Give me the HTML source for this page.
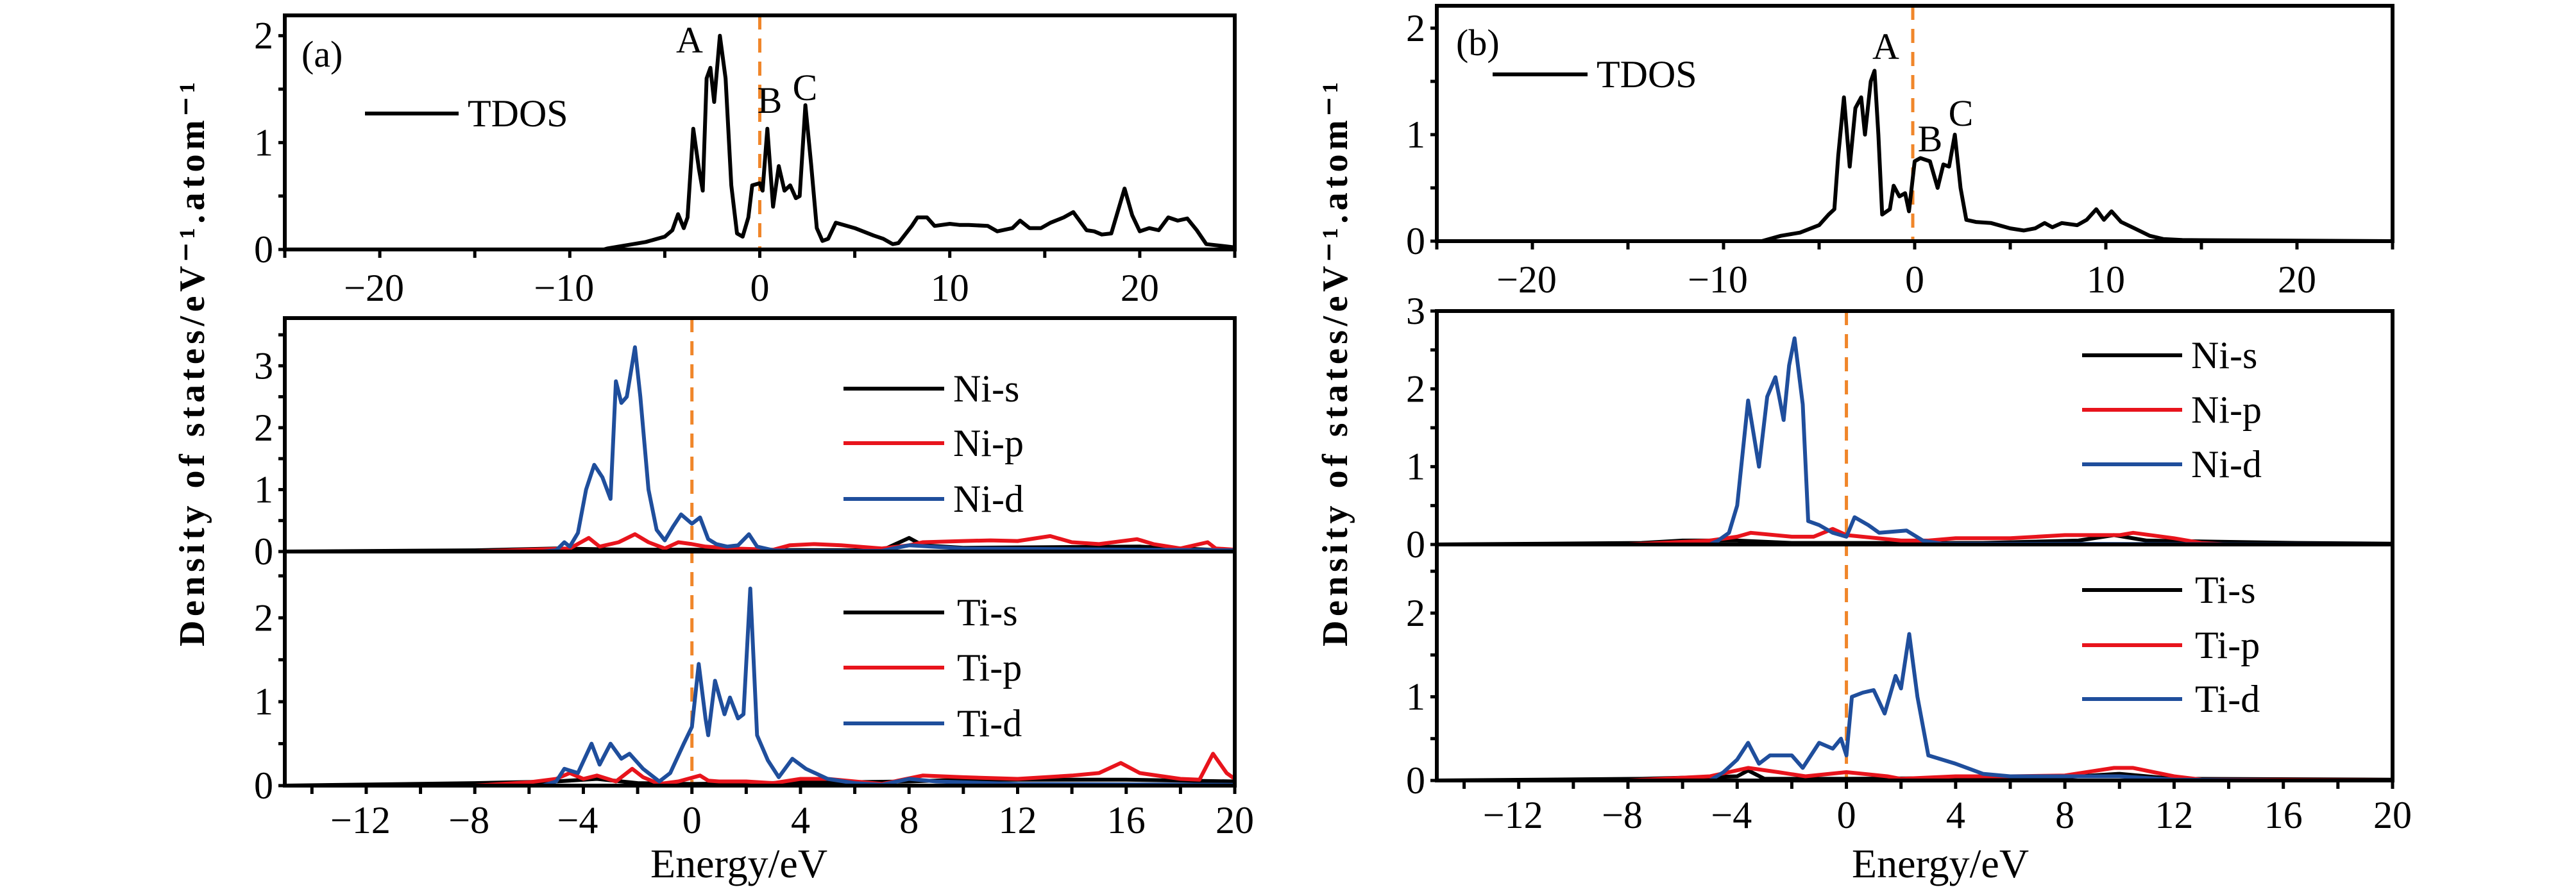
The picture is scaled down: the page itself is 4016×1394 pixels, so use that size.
<!DOCTYPE html>
<html><head><meta charset="utf-8">
<style>
html,body{margin:0;padding:0;background:#fff;}
svg{display:block;}
text{font-family:"Liberation Serif",serif;fill:#000;}
</style></head>
<body>
<svg id="fig" width="4016" height="1394" viewBox="0 0 4016 1394" xmlns="http://www.w3.org/2000/svg"></svg>
<script>
// ---------- data ----------
const tdosA_E=[-25,-8.2,-8,-7,-6,-5,-4.6,-4.3,-4.0,-3.8,-3.5,-3.2,-3.0,-2.8,-2.6,-2.4,-2.1,-1.8,-1.5,-1.2,-0.9,-0.6,-0.4,0,0.15,0.4,0.7,1.0,1.3,1.6,1.9,2.1,2.4,2.7,3.0,3.3,3.6,4.0,5,6,6.5,7,7.3,8,8.3,8.8,9.2,10,10.5,11,12,12.5,13.3,13.7,14.2,14.8,15.3,16,16.5,17.2,17.6,18,18.5,19.2,19.6,20,20.5,21,21.5,22,22.5,23,23.5,25];
const tdosA_V=[0,0,0.01,0.04,0.07,0.12,0.18,0.33,0.2,0.3,1.13,0.75,0.55,1.6,1.7,1.38,2.0,1.6,0.6,0.15,0.12,0.3,0.6,0.62,0.55,1.13,0.4,0.78,0.55,0.6,0.48,0.5,1.35,0.8,0.2,0.08,0.1,0.25,0.2,0.13,0.1,0.05,0.06,0.22,0.3,0.3,0.22,0.24,0.23,0.23,0.22,0.17,0.2,0.27,0.2,0.2,0.25,0.3,0.35,0.18,0.17,0.14,0.15,0.57,0.32,0.17,0.2,0.18,0.3,0.27,0.29,0.18,0.05,0.02];

const niA_E_d=[-15,-5.5,-5,-4.7,-4.5,-4.2,-3.9,-3.6,-3.3,-3.0,-2.8,-2.6,-2.4,-2.1,-1.9,-1.6,-1.3,-1.0,-0.7,-0.4,0,0.3,0.6,0.9,1.3,1.7,2.1,2.4,3,4,7,8,10,20];
const niA_d=[0,0,0.02,0.15,0.08,0.3,1.0,1.4,1.2,0.85,2.75,2.4,2.5,3.3,2.5,1.0,0.35,0.18,0.4,0.6,0.45,0.55,0.2,0.12,0.08,0.1,0.28,0.08,0.02,0.01,0.01,0.1,0.05,0.02];
const niA_E_p=[-15,-8,-6,-4.5,-3.8,-3.4,-2.7,-2.1,-1.6,-1,-0.5,0,0.5,1.5,3,3.6,4.5,5.5,7,8,8.5,10,11,12,13.2,14,15,16.4,17,18,19,19.3,20];
const niA_p=[0,0,0.03,0.05,0.22,0.08,0.15,0.28,0.15,0.05,0.15,0.12,0.08,0.05,0.03,0.1,0.12,0.1,0.05,0.1,0.15,0.17,0.18,0.17,0.25,0.15,0.12,0.2,0.12,0.05,0.15,0.05,0.03];
const niA_E_s=[-15,-8,-5,-2.5,0,7,8,8.5,10,16.5,20];
const niA_s=[0,0.02,0.05,0.03,0.03,0.02,0.22,0.1,0.06,0.08,0.01];

const tiA_E_d=[-15,-5.5,-5,-4.7,-4.2,-3.7,-3.4,-3.0,-2.6,-2.3,-1.8,-1.2,-0.8,-0.3,0,0.25,0.5,0.6,0.85,1.2,1.4,1.7,1.9,2.15,2.4,2.8,3.2,3.7,4.2,5,6,7,8,9,12,20];
const tiA_d=[0,0,0.05,0.2,0.15,0.5,0.25,0.5,0.32,0.38,0.2,0.05,0.15,0.5,0.7,1.45,0.8,0.6,1.25,0.85,1.05,0.8,0.85,2.35,0.6,0.3,0.1,0.32,0.2,0.08,0.03,0.01,0.08,0.05,0.02,0.01];
const tiA_E_p=[-15,-8,-6,-5,-4.5,-4,-3.5,-2.8,-2.2,-1.8,-1.2,-0.5,0.3,0.6,1,2,3,4,5,6,7,8.5,10,12,14,15,15.8,16.5,18,18.7,19.2,19.7,20];
const tiA_p=[0,0,0.04,0.08,0.15,0.08,0.12,0.05,0.2,0.1,0.02,0.05,0.12,0.06,0.05,0.05,0.03,0.08,0.08,0.05,0.02,0.12,0.1,0.08,0.12,0.15,0.27,0.15,0.08,0.07,0.38,0.15,0.08];
const tiA_E_s=[-15,-8,-5,-3.5,-2,0,8,10,16,20];
const tiA_s=[0,0.03,0.05,0.08,0.03,0.02,0.05,0.07,0.07,0.05];

const tdosB_E=[-25,-8,-7,-6,-5,-4.5,-4.2,-4.0,-3.7,-3.4,-3.1,-2.8,-2.6,-2.3,-2.1,-1.9,-1.7,-1.3,-1.1,-0.8,-0.5,-0.3,0,0.3,0.8,1.2,1.5,1.8,2.1,2.4,2.7,3.2,4,5,5.7,6.3,6.8,7.2,7.7,8.5,9,9.5,9.9,10.3,10.8,11.5,12.3,13,14,25];
const tdosB_V=[0,0,0.05,0.08,0.15,0.25,0.3,0.8,1.35,0.7,1.25,1.35,1.0,1.5,1.6,1.0,0.25,0.3,0.52,0.42,0.45,0.28,0.75,0.78,0.75,0.5,0.72,0.7,1.0,0.5,0.2,0.18,0.17,0.12,0.1,0.12,0.17,0.13,0.17,0.15,0.2,0.3,0.2,0.28,0.18,0.12,0.05,0.02,0.01,0];

const niB_E_d=[-15,-5,-4.7,-4.3,-4,-3.6,-3.2,-2.9,-2.6,-2.3,-2.1,-1.9,-1.6,-1.4,-1,-0.5,0,0.3,0.8,1.2,2.2,2.8,3.5,20];
const niB_d=[0,0,0.05,0.15,0.5,1.85,1.0,1.9,2.15,1.6,2.3,2.65,1.8,0.3,0.25,0.15,0.1,0.35,0.25,0.15,0.18,0.05,0.01,0];
const niB_E_p=[-15,-8,-5,-4,-3.5,-2,-1.2,-0.5,0,2,3,4,6,8,10,10.5,12,13,14,20];
const niB_p=[0,0,0.05,0.1,0.15,0.1,0.1,0.2,0.12,0.05,0.05,0.08,0.08,0.12,0.12,0.15,0.08,0.02,0,0];
const niB_E_s=[-15,-7.5,-6,-4,-2,5,8.5,9.8,11,16.5,20];
const niB_s=[0,0.02,0.05,0.05,0.02,0.02,0.05,0.12,0.05,0.02,0.01];

const tiB_E_d=[-15,-5,-4.5,-4,-3.6,-3.2,-2.8,-2.0,-1.6,-1,-0.5,-0.2,0,0.2,0.6,1.0,1.4,1.8,2.0,2.3,2.6,3,3.5,4,5,6,7,8,9,10,11,12,16,20];
const tiB_d=[0,0,0.1,0.25,0.45,0.2,0.3,0.3,0.15,0.45,0.38,0.5,0.3,1.0,1.05,1.08,0.8,1.25,1.1,1.75,1.0,0.3,0.25,0.2,0.08,0.05,0.05,0.05,0.05,0.05,0.03,0.01,0,0];
const tiB_E_p=[-15,-8,-5,-3.6,-2.5,-1.5,0,1.5,2,4,6,8,9.8,10.5,12,13,20];
const tiB_p=[0,0,0.05,0.15,0.1,0.05,0.1,0.05,0.02,0.05,0.05,0.06,0.15,0.15,0.05,0.01,0];
const tiB_E_s=[-15,-7.5,-4,-3.6,-3,0,8,10,12,20];
const tiB_s=[0,0.02,0.05,0.12,0.02,0.02,0.04,0.08,0.02,0.01];

const topTicks=[-20,-10,0,10,20];
const lowTicks=[-12,-8,-4,0,4,8,12,16,20];

// ---------- drawing ----------
const svg=document.getElementById('fig');
const NS='http://www.w3.org/2000/svg';
function el(tag,attrs,parent){const e=document.createElementNS(NS,tag);for(const k in attrs)e.setAttribute(k,attrs[k]);(parent||svg).appendChild(e);return e;}
function txt(str,x,y,size,anchor,parent){const t=el('text',{x:x,y:y,'font-size':size,'text-anchor':anchor||'middle'},parent);t.textContent=str;return t;}
function mkAxis(x0,x1,e0,e1,yb,yt,v0,v1){return{sx:e=>x0+(e-e0)/(e1-e0)*(x1-x0),sy:v=>yb-(v-v0)/(v1-v0)*(yb-yt)};}
function series(ax,E,V,color,name){const pts=E.map((e,i)=>ax.sx(e).toFixed(1)+','+ax.sy(V[i]).toFixed(1)).join(' ');
 const p=el('polyline',{points:pts,fill:'none',stroke:color,'stroke-width':6,'stroke-linejoin':'round'});
 
 }
function yTicks(ax,x,vals,labels,step,maxv){
 for(let v=0;v<=maxv+1e-6;v+=step){el('line',{x1:x,x2:x-10,y1:ax.sy(v),y2:ax.sy(v),stroke:'#000','stroke-width':5});}
 labels.forEach(v=>{const t=txt(String(v),x-18,ax.sy(v)+20,60,'end');
  
  });}
function xTicks(ax,y,from,to,step,labels,ly){
 for(let e=from;e<=to+1e-6;e+=step){el('line',{x1:ax.sx(e),x2:ax.sx(e),y1:y,y2:y+13,stroke:'#000','stroke-width':5});}
 labels.forEach(v=>{const t=txt(v<0?'\u2212'+(-v):String(v),ax.sx(v)-(v<0?9:0),ly,60,'middle');
  
  });}
function legend(x1,x2,y,color,label,tx){
 el('line',{x1:x1,x2:x2,y1:y,y2:y,stroke:color,'stroke-width':6});
 const t=txt(label,tx,y+20,60,'start');
 
 }
function dashed(x,y1,y2){el('line',{x1:x,x2:x,y1:y1,y2:y2,stroke:'#f0862a','stroke-width':5,'stroke-dasharray':'22,14'});}

function panel(cfg){
 const g=el('g',{});
 
 
 const T=mkAxis(cfg.L,cfg.R,-25,25,cfg.tB,cfg.tT,0,cfg.tMax);
 dashed(T.sx(cfg.dashT),cfg.tT,cfg.tB);
 series(T,cfg.tE,cfg.tV,'#000','tdos-line');
 el('rect',{x:cfg.L,y:cfg.tT,width:cfg.R-cfg.L,height:cfg.tB-cfg.tT,fill:'none',stroke:'#000','stroke-width':6});
 yTicks(T,cfg.L,null,[0,1,2],0.5,2);
 xTicks(T,cfg.tB,-25,25,5,topTicks,cfg.tB+80);
 const N=mkAxis(cfg.L,cfg.R,-15,20,cfg.mB,cfg.mT,0,cfg.mMax);
 const B=mkAxis(cfg.L,cfg.R,-15,20,cfg.bB,cfg.mB,0,cfg.bMax);
 dashed(N.sx(0),cfg.mT,cfg.bB);
 series(N,cfg.niEs,cfg.nis,'#000','ni-s-line');
 series(N,cfg.niEp,cfg.nip,'#e8141c','ni-p-line');
 series(N,cfg.niEd,cfg.nid,'#1f4e9c','ni-d-line');
 series(B,cfg.tiEs,cfg.tis,'#000','ti-s-line');
 series(B,cfg.tiEp,cfg.tip,'#e8141c','ti-p-line');
 series(B,cfg.tiEd,cfg.tid,'#1f4e9c','ti-d-line');
 el('rect',{x:cfg.L,y:cfg.mT,width:cfg.R-cfg.L,height:cfg.bB-cfg.mT,fill:'none',stroke:'#000','stroke-width':6});
 el('line',{x1:cfg.L,x2:cfg.R,y1:cfg.mB,y2:cfg.mB,stroke:'#000','stroke-width':6});
 yTicks(N,cfg.L,null,[0,1,2,3],0.5,Math.floor(cfg.mMax*2)/2);
 yTicks(B,cfg.L,null,[0,1,2],0.5,2.5);
 xTicks(B,cfg.bB,-14,20,2,lowTicks,cfg.bB+74);
 legend(cfg.tlx1,cfg.tlx2,cfg.tly,'#000','TDOS',cfg.tlx2+14);
 const ny=cfg.nly, ty=cfg.tly2;
 legend(cfg.nx1,cfg.nx2,ny[0],'#000','Ni-s',cfg.nx2+14);
 legend(cfg.nx1,cfg.nx2,ny[1],'#e8141c','Ni-p',cfg.nx2+14);
 legend(cfg.nx1,cfg.nx2,ny[2],'#1f4e9c','Ni-d',cfg.nx2+14);
 legend(cfg.nx1,cfg.nx2,ty[0],'#000','Ti-s',cfg.nx2+20);
 legend(cfg.nx1,cfg.nx2,ty[1],'#e8141c','Ti-p',cfg.nx2+20);
 legend(cfg.nx1,cfg.nx2,ty[2],'#1f4e9c','Ti-d',cfg.nx2+20);
 txt(cfg.tag,cfg.tagX,cfg.tagY,58,'start');
 cfg.peaks.forEach(p=>{const t=txt(p[0],p[1],p[2],58,'middle');
  
  });
 const yt=txt('Density of states/eV\u207B\u00B9.atom\u207B\u00B9',0,0,56,'middle');
 yt.setAttribute('transform','translate('+cfg.ytX+',568) rotate(-90)');
 yt.setAttribute('font-weight','bold');
 yt.setAttribute('textLength','880');
 yt.setAttribute('lengthAdjust','spacing');
 
 
 const xt=txt('Energy/eV',cfg.xtX,1368,64,'middle');
 
 
}

panel({name:'panel-a',L:444,R:1925,tT:24,tB:389,tMax:2.19,dashT:0,tE:tdosA_E,tV:tdosA_V,
 mT:496,mB:860,mMax:3.77,bB:1225,bMax:2.79,
 niEs:niA_E_s,nis:niA_s,niEp:niA_E_p,nip:niA_p,niEd:niA_E_d,nid:niA_d,
 tiEs:tiA_E_s,tis:tiA_s,tiEp:tiA_E_p,tip:tiA_p,tiEd:tiA_E_d,tid:tiA_d,
 tlx1:569,tlx2:715,tly:177,nx1:1315,nx2:1472,nly:[606,691,778],tly2:[955,1041,1128],
 tag:'(a)',tagX:470,tagY:104,peaks:[['A',1075,82],['B',1200,176],['C',1255,156]],ytX:318,xtX:1152});
panel({name:'panel-b',L:2240,R:3730,tT:9,tB:376,tMax:2.21,dashT:-0.1,tE:tdosB_E,tV:tdosB_V,
 mT:485,mB:849,mMax:3,bB:1217,bMax:2.82,
 niEs:niB_E_s,nis:niB_s,niEp:niB_E_p,nip:niB_p,niEd:niB_E_d,nid:niB_d,
 tiEs:tiB_E_s,tis:tiB_s,tiEp:tiB_E_p,tip:tiB_p,tiEd:tiB_E_d,tid:tiB_d,
 tlx1:2327,tlx2:2475,tly:116,nx1:3246,nx2:3402,nly:[554,639,724],tly2:[920,1006,1090],
 tag:'(b)',tagX:2270,tagY:86,peaks:[['A',2940,92],['B',3009,236],['C',3057,196]],ytX:2100,xtX:3025});
</script>
</body></html>
